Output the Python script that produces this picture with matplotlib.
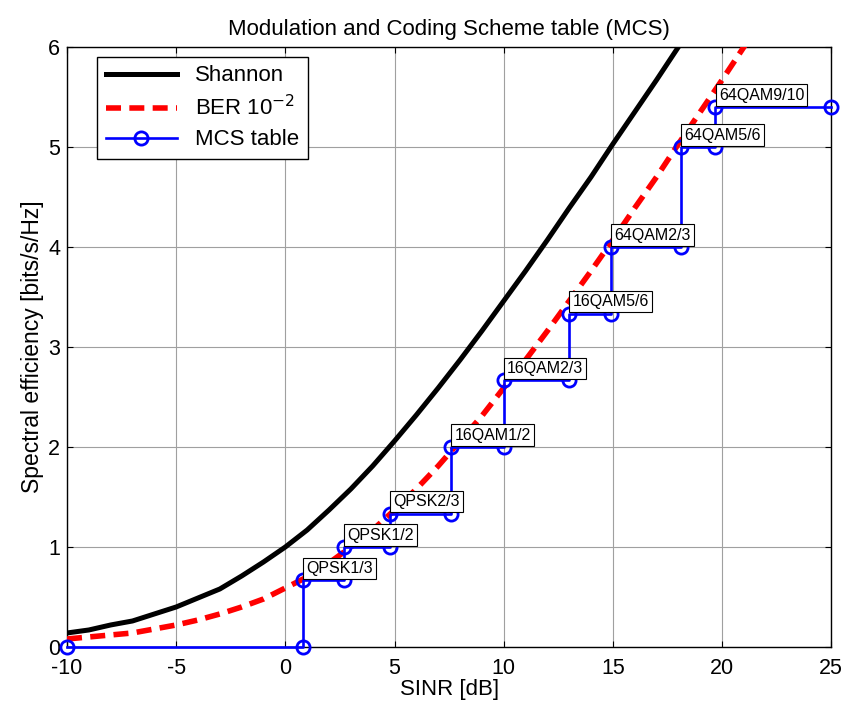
import matplotlib
matplotlib.use('Agg')
import matplotlib.pyplot as plt

plt.rcParams['font.family'] = ['Liberation Sans', 'DejaVu Sans']
plt.rcParams['axes.unicode_minus'] = False

# Shannon capacity curve (1 dB steps)
snr_shannon = [-10, -9, -8, -7, -6, -5, -4, -3, -2, -1, 0, 1, 2, 3, 4, 5, 6, 7, 8, 9,
               10, 11, 12, 13, 14, 15, 16, 17, 18, 19]
se_shannon = [0.14, 0.17, 0.22, 0.26, 0.33, 0.40, 0.49, 0.58, 0.71, 0.85, 1.00, 1.17,
              1.37, 1.58, 1.81, 2.06, 2.32, 2.59, 2.87, 3.16, 3.46, 3.76, 4.07, 4.39,
              4.70, 5.03, 5.35, 5.67, 6.00, 6.32]

# BER 1e-2 curve
snr_ber = [-10, -9, -8, -7, -6, -5, -4, -3, -2, -1, 0, 1, 2, 3, 4, 5, 6, 7, 8, 9,
           10, 11, 12, 13, 14, 15, 16, 17, 18, 19, 20, 21, 22]
se_ber = [0.08, 0.10, 0.12, 0.14, 0.18, 0.22, 0.27, 0.33, 0.40, 0.48, 0.59, 0.70,
          0.84, 1.00, 1.17, 1.37, 1.58, 1.81, 2.06, 2.31, 2.59, 2.87, 3.16, 3.46,
          3.76, 4.07, 4.39, 4.70, 5.03, 5.35, 5.67, 6.00, 6.32]

# MCS table: switching SINR and spectral efficiency per level
mcs_names = ['QPSK1/3', 'QPSK1/2', 'QPSK2/3', '16QAM1/2', '16QAM2/3', '16QAM5/6',
             '64QAM2/3', '64QAM5/6', '64QAM9/10']
mcs_sinr = [0.8, 2.7, 4.8, 7.6, 10.0, 13.0, 14.9, 18.1, 19.7]
mcs_se = [0.667, 1.0, 1.333, 2.0, 2.667, 3.333, 4.0, 5.0, 5.4]
sinr_min, sinr_max = -10, 25

# staircase vertices
stair_x = [sinr_min]
stair_y = [0]
prev = 0
for x, y in zip(mcs_sinr, mcs_se):
    stair_x += [x, x]
    stair_y += [prev, y]
    prev = y
stair_x.append(sinr_max)
stair_y.append(prev)

fig = plt.figure(figsize=(8.43, 7.08), dpi=100)
ax = fig.add_axes([0.0795, 0.0862, 0.9065, 0.8474])

ax.plot(snr_shannon, se_shannon, color='black', lw=3.6, label='Shannon', zorder=3)
ax.plot(snr_ber, se_ber, color='red', lw=4, dashes=(2.7, 1.5), label='BER 10$^{-2}$', zorder=3)
ax.plot(stair_x, stair_y, color='blue', lw=1.9, marker='o', ms=9.5, mfc='none',
        mew=2, label='MCS table', zorder=4, clip_on=False)

for name, x, y in zip(mcs_names, mcs_sinr, mcs_se):
    ax.annotate(name, (x, y), xytext=(2.4, 3.2), textcoords='offset points',
                ha='left', va='bottom', fontsize=11.5, zorder=6,
                bbox=dict(boxstyle='square,pad=0.2', fc='white', ec='black', lw=0.8))

ax.set_xlim(sinr_min, sinr_max)
ax.set_ylim(0, 6)
ax.set_xticks(range(-10, 26, 5))
ax.set_yticks(range(0, 7))
ax.tick_params(direction='in', top=True, right=True, length=4, labelsize=15.5)
ax.tick_params(axis='x', pad=8)
ax.tick_params(axis='y', pad=5)
ax.grid(True, color='#a0a0a0', lw=0.8)
ax.set_axisbelow(True)
for s in ax.spines.values():
    s.set_linewidth(1.0)

ax.set_title('Modulation and Coding Scheme table (MCS)', fontsize=16, pad=9)
ax.set_xlabel('SINR [dB]', fontsize=16, labelpad=0)
ax.set_ylabel('Spectral efficiency [bits/s/Hz]', fontsize=16.5, labelpad=3)

leg = ax.legend(loc='upper left', bbox_to_anchor=(0.039, 0.984), fontsize=16,
                handlelength=3.2, labelspacing=0.4, borderpad=0.4,
                fancybox=False, framealpha=1, edgecolor='black', borderaxespad=0)
leg.get_frame().set_linewidth(1.0)
leg.set_zorder(7)

plt.savefig('out.png', dpi=100)
